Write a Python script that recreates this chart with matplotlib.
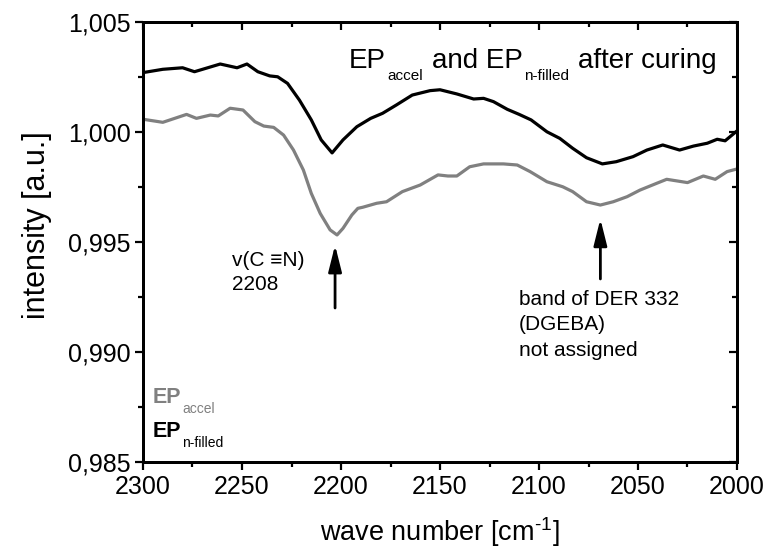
import matplotlib
matplotlib.use("Agg")
import matplotlib.pyplot as plt
from matplotlib.ticker import MultipleLocator, FuncFormatter

plt.rcParams['font.family'] = ['Liberation Sans', 'DejaVu Sans']
plt.rcParams['mathtext.fontset'] = 'custom'
plt.rcParams['mathtext.rm'] = 'Liberation Sans'
plt.rcParams['mathtext.it'] = 'Liberation Sans'
plt.rcParams['mathtext.bf'] = 'Liberation Sans:bold'
for a in ('xtick', 'ytick'):
    plt.rcParams[f'{a}.major.size'] = 6
    plt.rcParams[f'{a}.minor.size'] = 3.5
    plt.rcParams[f'{a}.major.width'] = 1.6
    plt.rcParams[f'{a}.minor.width'] = 1.6
    plt.rcParams[f'{a}.color'] = 'black'

# ---- data ----
nfilled_wave = [2300, 2290, 2280, 2274, 2261, 2252.5, 2247.5, 2242, 2236, 2232, 2227,
                2221, 2215, 2210, 2204.5, 2199, 2192, 2185, 2179, 2172, 2164, 2155,
                2150, 2141.5, 2133, 2128, 2123, 2116, 2110, 2104, 2096, 2089.5, 2083,
                2076, 2068, 2061, 2052.5, 2045.5, 2037.5, 2029, 2022, 2015, 2010,
                2006, 2000]
nfilled_int = [1.00270, 1.00285, 1.00292, 1.00274, 1.00309, 1.00292, 1.00309, 1.00274,
               1.00255, 1.00251, 1.00221, 1.00145, 1.00055, 0.99964, 0.99905, 0.99964,
               1.00024, 1.00062, 1.00085, 1.00123, 1.00168, 1.00188, 1.00192, 1.00173,
               1.00150, 1.00153, 1.00138, 1.00103, 1.00080, 1.00055, 1.00001, 0.99971,
               0.99926, 0.99883, 0.99855, 0.99865, 0.99888, 0.99918, 0.99941, 0.99918,
               0.99936, 0.99949, 0.99967, 0.99960, 1.00005]

accel_wave = [2300, 2290, 2278, 2273, 2266, 2262, 2256, 2249.5, 2243.5, 2239, 2234,
              2229, 2224, 2219, 2215, 2210.5, 2205.5, 2202, 2199, 2194.5, 2191.5,
              2189, 2182, 2177, 2169, 2160, 2151, 2146, 2141.5, 2135, 2128, 2118,
              2111, 2104.5, 2096, 2088, 2083, 2076, 2069, 2062.5, 2055.5, 2049,
              2040.5, 2035.5, 2025, 2017, 2011, 2005, 2000]
accel_int = [1.00058, 1.00044, 1.00080, 1.00062, 1.00077, 1.00073, 1.00108, 1.00100,
             1.00047, 1.00027, 1.00021, 0.99986, 0.99918, 0.99827, 0.99721, 0.99630,
             0.99555, 0.99532, 0.99562, 0.99623, 0.99653, 0.99658, 0.99676, 0.99683,
             0.99729, 0.99759, 0.99805, 0.99800, 0.99800, 0.99842, 0.99855, 0.99855,
             0.99850, 0.99820, 0.99774, 0.99751, 0.99729, 0.99683, 0.99668, 0.99683,
             0.99706, 0.99736, 0.99767, 0.99785, 0.99770, 0.99800, 0.99785, 0.99820,
             0.99832]

x_ticks = [2300, 2250, 2200, 2150, 2100, 2050, 2000]
y_ticks = [0.985, 0.990, 0.995, 1.000, 1.005]

arrow_x = [2203, 2069]
arrow_tip = [0.99486, 0.99605]
arrow_tail = [0.9920, 0.99332]

cn_lines = ['v(C \u2261N)', '2208']
der_lines = ['band of DER 332', '(DGEBA)', 'not assigned']

GRAY = '#808080'
W, H = 768, 552

fig = plt.figure(figsize=(W / 100, H / 100), dpi=100)
ax = fig.add_axes([143 / W, 1 - 462 / H, (737 - 143) / W, (462 - 22) / H])

ax.plot(accel_wave, accel_int, color=GRAY, lw=2.3, solid_joinstyle='round')
ax.plot(nfilled_wave, nfilled_int, color='black', lw=2.3, solid_joinstyle='round')

ax.set_xlim(2300, 2000)
ax.set_ylim(0.985, 1.005)
ax.set_xticks(x_ticks)
ax.set_yticks(y_ticks)
ax.xaxis.set_minor_locator(MultipleLocator(25))
ax.yaxis.set_minor_locator(MultipleLocator(0.0025))
ax.yaxis.set_major_formatter(FuncFormatter(lambda v, p: f"{v:.3f}".replace('.', ',')))
ax.tick_params(which='both', direction='out', labelsize=18, pad=3,
               top=False, right=False)
for s in ax.spines.values():
    s.set_linewidth(2)

# top and right axes with inward ticks
axt = ax.twiny()
axt.set_xlim(ax.get_xlim())
axt.set_xticks(x_ticks)
axt.xaxis.set_minor_locator(MultipleLocator(25))
axt.tick_params(which='both', direction='in', labeltop=False, top=True, bottom=False)
axr = ax.twinx()
axr.set_ylim(ax.get_ylim())
axr.set_yticks(y_ticks)
axr.yaxis.set_minor_locator(MultipleLocator(0.0025))
axr.tick_params(which='both', direction='in', labelright=False, right=True, left=False)
for tw in (axt, axr):
    for s in tw.spines.values():
        s.set_linewidth(2)

ax.set_xlabel(r'wave number [cm$^{\text{-1}}$]', fontsize=19.5)
ax.xaxis.label.set_va('baseline')
ax.xaxis.set_label_coords(0.5, -(541 - 462) / 440)
ax.set_ylabel('intensity [a.u.]', fontsize=22)
ax.yaxis.set_label_coords(-(143 - 52) / 594, (462 - 225) / 440)

renderer = fig.canvas.get_renderer()


def px(x, y):
    return x / W, 1 - y / H


def seg_text(x, y, parts, **kw):
    """Draw consecutive text parts starting at pixel (x, y baseline)."""
    cur = x
    for txt, size, dy, weight in parts:
        t = fig.text(*px(cur, y + dy), txt, fontsize=size, fontweight=weight,
                     ha='left', va='baseline', **kw)
        bb = t.get_window_extent(renderer=renderer)
        cur = bb.x1 + 1
    return cur


# title
seg_text(349, 68, [('EP', 20, 0, 'normal'), ('accel', 11, 12, 'normal')])
seg_text(432, 68, [('and EP', 20, 0, 'normal'), ('n-filled', 11, 12, 'normal')])
fig.text(*px(578, 68), 'after curing', fontsize=20, ha='left', va='baseline')

# legend
seg_text(153, 403, [('EP', 15.5, 0, 'bold'), ('accel', 10, 10, 'normal')], color=GRAY)
seg_text(153, 437, [('EP', 15.5, 0, 'bold'), ('n-filled', 10, 10, 'normal')], color='black')

# annotations
for i, line in enumerate(cn_lines):
    fig.text(*px(232, 266 + 24 * i), line, fontsize=15, ha='left', va='baseline')
for i, line in enumerate(der_lines):
    fig.text(*px(519, 305 + 25.5 * i), line, fontsize=15, ha='left', va='baseline')

for xa, yt, yb in zip(arrow_x, arrow_tip, arrow_tail):
    ax.annotate('', xy=(xa, yt), xytext=(xa, yb),
                arrowprops=dict(arrowstyle='-|>,head_length=1.6,head_width=0.4',
                                color='black', lw=2, shrinkA=0, shrinkB=0,
                                mutation_scale=10))

fig.savefig('out.png', dpi=100)
